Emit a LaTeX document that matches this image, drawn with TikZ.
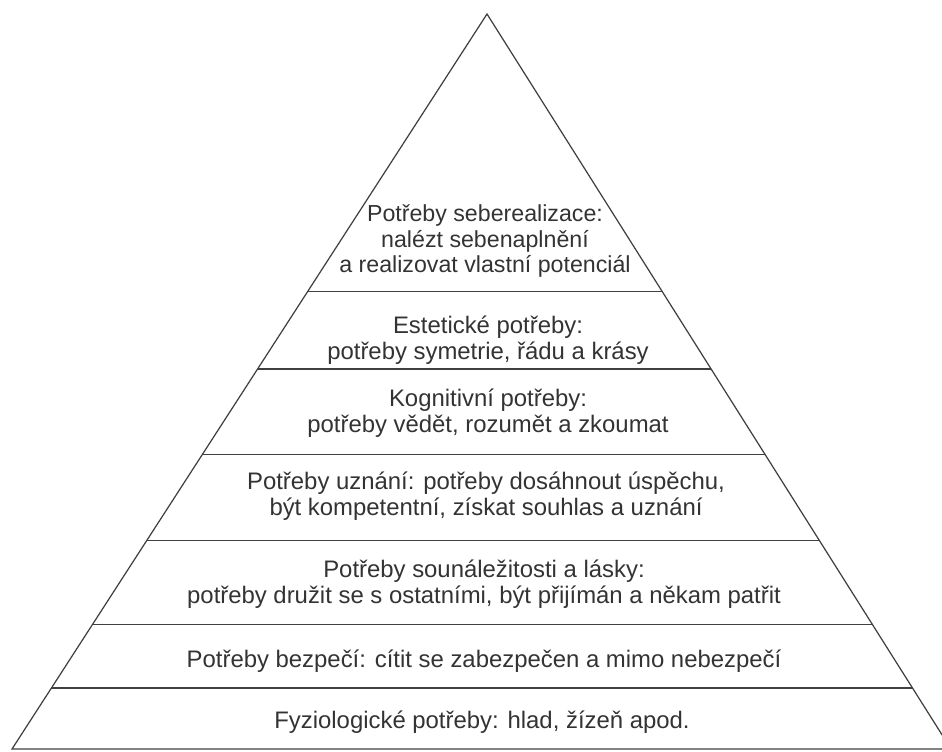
\documentclass[tikz,border=0pt]{standalone}
\usepackage{fontspec}
\setmainfont{Liberation Sans}
\usetikzlibrary{calc}

\begin{document}
\begin{tikzpicture}[
    x=0.02cm, y=-0.02cm,
    level line/.style={draw=black!75, line width=0.7pt},
    need/.style={align=center, text=black!80, inner sep=0pt,
                 font=\fontsize{13.6}{15}\selectfont}]

\useasboundingbox (0,0) rectangle (942,751);

% outline of the pyramid
\coordinate (apex) at (487,14);
\coordinate (bl) at (12,749);
\coordinate (br) at (951,749);
\draw[level line, line join=miter] (bl) -- (apex) -- (br) -- cycle;

% dividing lines between the levels
\foreach \t [count=\i] in {0.378,0.483,0.599,0.716,0.831,0.917} {
    \coordinate (l\i) at ($(apex)!\t!(bl)$);
    \coordinate (r\i) at ($(apex)!\t!(br)$);
    \draw[level line] (l\i) -- (r\i);
}

\node[need, font=\fontsize{13.2}{14.6}\selectfont] (selfreal) at (485,241) {Potřeby seberealizace:\\nalézt sebenaplnění\\a realizovat vlastní potenciál};
\node[need] (aesthetic) at (488,340) {Estetické potřeby:\\potřeby symetrie, řádu a krásy};
\node[need] (cognitive) at (488,413) {Kognitivní potřeby:\\potřeby vědět, rozumět a zkoumat};
\node[need] (esteem) at (486,496) {Potřeby uznání: potřeby dosáhnout úspěchu,\\být kompetentní, získat souhlas a uznání};
\node[need] (belonging) at (484,584) {Potřeby sounáležitosti a lásky:\\potřeby družit se s ostatními, být přijímán a někam patřit};
\node[need] (safety) at (484,661) {Potřeby bezpečí: cítit se zabezpečen a mimo nebezpečí};
\node[need] (physio) at (482,722) {Fyziologické potřeby: hlad, žízeň apod.};

\end{tikzpicture}
\end{document}
